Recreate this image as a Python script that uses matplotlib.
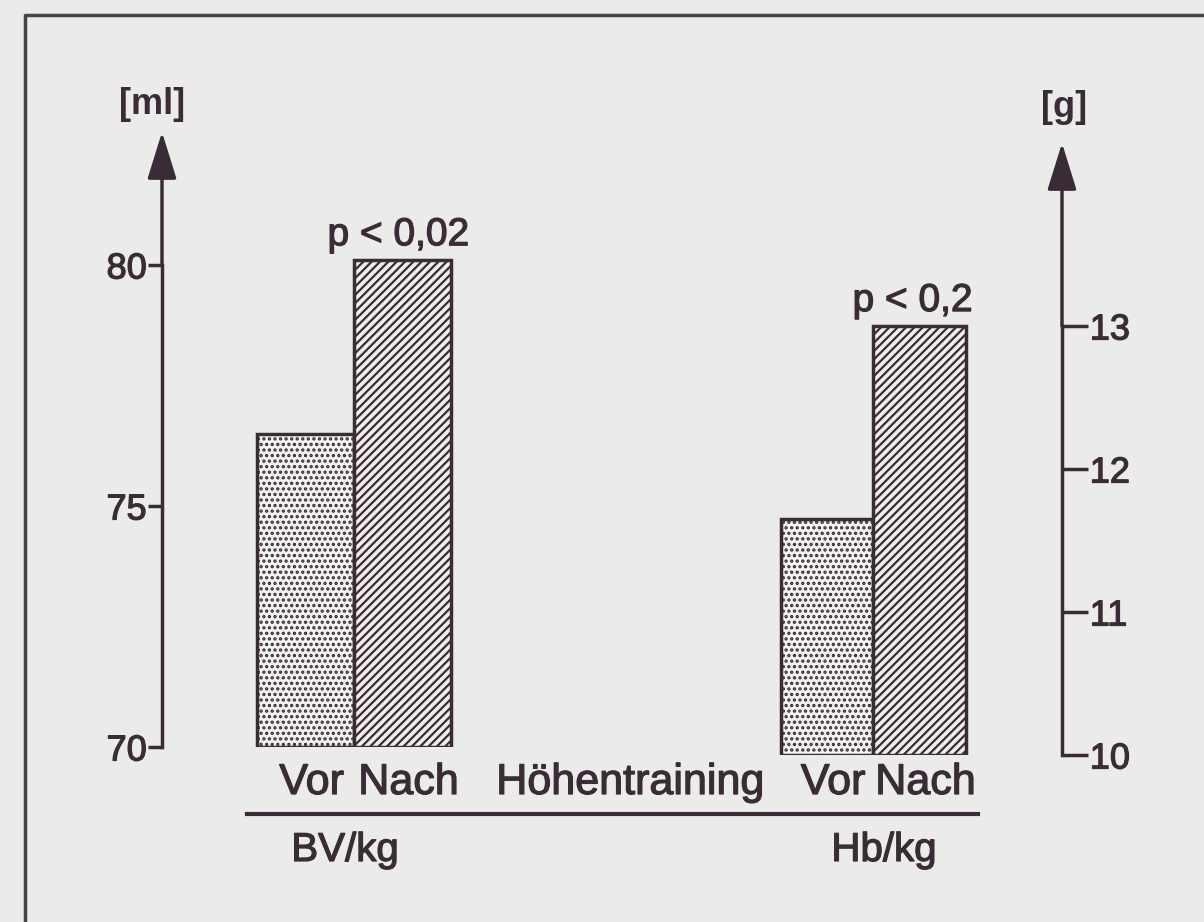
import matplotlib
matplotlib.use("Agg")
import matplotlib.pyplot as plt
import matplotlib.transforms as mtransforms
import matplotlib.patheffects as pe
from matplotlib.lines import Line2D

plt.rcParams["font.family"] = ["Liberation Sans", "DejaVu Sans"]
plt.rcParams["hatch.linewidth"] = 1.6

# data
phases = ["Vor", "Nach"]
groups = ["BV/kg", "Hb/kg"]
bv_values = [76.5, 80.1]      # ml per kg
hb_values = [11.65, 13.0]     # g per kg
p_labels = ["p < 0,02", "p < 0,2"]
bv_ticks = [70, 75, 80]
hb_ticks = [10, 11, 12, 13]
bv_unit = "[ml]"
hb_unit = "[g]"
middle_label = "Höhentraining"

# layout (pixel units of a 1204 x 922 canvas)
W, H = 1204, 922
INK = "#3a2c36"
bv_x = [305.5, 402.5]
hb_x = [827, 919.5]
bv_w, hb_w = 97, 92.5
heavy = [pe.withStroke(linewidth=0.9, foreground=INK)]


def fx(px):
    return px / W


def fy(py):
    return 1 - py / H


fig = plt.figure(figsize=(W / 100, H / 100), dpi=100)
fig.patch.set_facecolor("#ebebe9")

# left axis: 70 ml at y=747 px, 48.2 px per ml, arrow tip at y=132
ax1 = fig.add_axes([0, fy(747), 1, (747 - 132) / H])
ax1.set_xlim(0, W)
ax1.set_ylim(70, 70 + (747 - 132) / 48.2)
# right axis: 10 g at y=755 px, 143 px per g, arrow tip at y=143
ax2 = fig.add_axes([0, fy(755), 1, (755 - 143) / H])
ax2.set_xlim(0, W)
ax2.set_ylim(10, 10 + (755 - 143) / 143)

for ax in (ax1, ax2):
    ax.patch.set_visible(False)
    ax.set_xticks([])
    for s in ("top", "bottom"):
        ax.spines[s].set_visible(False)

styles = [dict(facecolor="#f3f3f1", hatch="..."),
          dict(facecolor="#f0efee", hatch="////")]

base1 = ax1.get_ylim()[0]
for x, v, st in zip(bv_x, bv_values, styles):
    ax1.bar(x, v - base1, bottom=base1, width=bv_w, edgecolor=INK,
            linewidth=2.5, **st)
base2 = ax2.get_ylim()[0]
for x, v, st in zip(hb_x, hb_values, styles):
    ax2.bar(x, v - base2, bottom=base2, width=hb_w, edgecolor=INK,
            linewidth=2.5, **st)

# axes with arrows
ax1.spines["right"].set_visible(False)
ax1.spines["left"].set_position(("data", 162))
ax1.spines["left"].set_bounds(bv_ticks[0], bv_ticks[-1])
ax1.spines["left"].set_linewidth(2.5)
ax1.spines["left"].set_color(INK)
ax1.set_yticks(bv_ticks)
ax1.tick_params(axis="y", direction="out", length=10, width=2.5, pad=1,
                labelsize=26, colors=INK)
ax1.annotate("", xy=(162, ax1.get_ylim()[1]), xytext=(162, bv_ticks[-1]),
             arrowprops=dict(arrowstyle="-|>,head_length=1.45,head_width=0.45",
                             mutation_scale=20, lw=2.5, color=INK,
                             shrinkA=0, shrinkB=0))

ax2.spines["left"].set_visible(False)
ax2.spines["right"].set_position(("data", 1062))
ax2.spines["right"].set_bounds(hb_ticks[0], hb_ticks[-1])
ax2.spines["right"].set_linewidth(2.5)
ax2.spines["right"].set_color(INK)
ax2.yaxis.tick_right()
ax2.set_yticks(hb_ticks)
ax2.tick_params(axis="y", direction="out", length=19, width=2.5, pad=1,
                labelsize=26, colors=INK)
ax2.annotate("", xy=(1062, ax2.get_ylim()[1]), xytext=(1062, hb_ticks[-1]),
             arrowprops=dict(arrowstyle="-|>,head_length=1.45,head_width=0.45",
                             mutation_scale=20, lw=2.5, color=INK,
                             shrinkA=0, shrinkB=0))
for lab in ax1.get_yticklabels() + ax2.get_yticklabels():
    lab.set_path_effects(heavy)

fig.text(fx(152), fy(105), bv_unit, ha="center", va="center",
         fontsize=26, weight="bold", color=INK)
fig.text(fx(1064), fy(107), hb_unit, ha="center", va="center",
         fontsize=26, weight="bold", color=INK)

# p values above the "Nach" bars
ax1.annotate(p_labels[0], xy=(bv_x[1], bv_values[1]), xytext=(-3, 5),
             textcoords="offset points", ha="center", va="bottom",
             fontsize=28, color=INK, path_effects=heavy)
ax2.annotate(p_labels[1], xy=(hb_x[1], hb_values[1]), xytext=(-5, 5),
             textcoords="offset points", ha="center", va="bottom",
             fontsize=28, color=INK, path_effects=heavy)

# category labels under the bars
row = mtransforms.blended_transform_factory(ax1.transData, fig.transFigure)
for x, lab in zip(bv_x + hb_x, phases * 2):
    ax1.text(x + 6, fy(783), lab, transform=row, ha="center", va="center",
             fontsize=31, color=INK, path_effects=heavy)
ax1.text(630, fy(783), middle_label, transform=row, ha="center",
         va="center", fontsize=31, color=INK, path_effects=heavy)

fig.add_artist(Line2D([fx(247), fx(978)], [fy(814), fy(814)], lw=3,
                      color=INK))
fig.text(fx(345), fy(850), groups[0], ha="center", va="center",
         fontsize=29, color=INK, path_effects=heavy)
fig.text(fx(884), fy(850), groups[1], ha="center", va="center",
         fontsize=29, color=INK, path_effects=heavy)

# page frame
fig.add_artist(Line2D([fx(25), fx(25), fx(W)], [0, fy(15), fy(15)],
                      lw=2.5, color="#454545"))

fig.savefig("out.png", dpi=100, facecolor=fig.get_facecolor())
